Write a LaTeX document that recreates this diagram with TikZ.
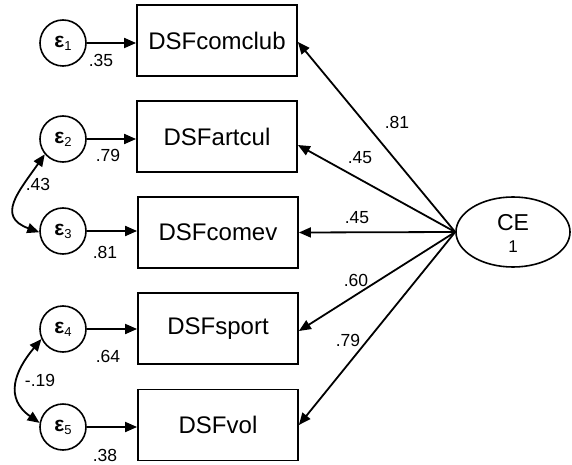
\documentclass[tikz,border=0pt]{standalone}
\usepackage{fontspec}
\setmainfont{Liberation Sans}
\usetikzlibrary{arrows.meta,shapes.geometric}
\tikzset{
  tip/.style={-{Triangle[length=12pt,width=10pt]}},
  twotip/.style={{Triangle[length=12pt,width=10pt]}-{Triangle[length=12pt,width=10pt]}},
  obsbox/.style={draw,line width=1.8pt,minimum width=160pt,minimum height=71pt,inner sep=0pt,font=\fontsize{24}{26}\selectfont},
  errc/.style={draw,circle,line width=1.6pt,minimum size=46pt,inner sep=0pt,font=\fontsize{21}{22}\selectfont},
  lat/.style={draw,ellipse,line width=1.6pt,minimum width=114pt,minimum height=70pt,inner sep=0pt},
  wlab/.style={font=\fontsize{17.5}{18}\selectfont,inner sep=0pt},
  conn/.style={line width=1.8pt}
}
\newcommand{\eps}[1]{\textbf{ε}\raisebox{-0.15em}{\fontsize{13}{14}\selectfont #1}}
\begin{document}
\begin{tikzpicture}[x=1pt,y=-1pt]
\useasboundingbox (0,0) rectangle (572,465);
% indicators
\node[obsbox] (b1) at (217,40.5) {DSFcomclub};
\node[obsbox] (b2) at (217,136.5) {DSFartcul};
\node[obsbox] (b3) at (218,232.5) {DSFcomev};
\node[obsbox] (b4) at (218,328.5) {DSFsport};
\node[obsbox] (b5) at (218,425) {DSFvol};
% error terms
\node[errc] (e1) at (63,43) {\eps{1}};
\node[errc] (e2) at (63,139) {\eps{2}};
\node[errc] (e3) at (63,231) {\eps{3}};
\node[errc] (e4) at (63,329) {\eps{4}};
\node[errc] (e5) at (63,427) {\eps{5}};
% latent factor
\node[lat] (ce) at (513,232) {};
\node[font=\fontsize{23}{24}\selectfont,inner sep=0pt] (cet) at (513,223) {CE};
\node[font=\fontsize{17}{18}\selectfont,inner sep=0pt] (ceo) at (513,247) {1};
% error paths
\foreach \i in {1,...,5} \draw[conn,tip] (e\i) -- (b\i.west |- e\i);
\node[wlab] (l1) at (101,60) {.35};
\node[wlab] (l2) at (108,155) {.79};
\node[wlab] (l3) at (105,252) {.81};
\node[wlab] (l4) at (108,356) {.64};
\node[wlab] (l5) at (105,455) {.38};
% loadings
\coordinate (src) at (ce.west);
\draw[conn,tip] (src) -- (b1.east |- 0,42);
\draw[conn,tip] (src) -- (b2.east |- 0,145);
\draw[conn,tip] (src) -- (b3.east);
\draw[conn,tip] (src) -- (b4.east |- 0,331);
\draw[conn,tip] (src) -- (b5.east |- 0,425);
\node[wlab] (f1) at (397,122) {.81};
\node[wlab] (f2) at (360,158) {.45};
\node[wlab] (f3) at (357,218) {.45};
\node[wlab] (f4) at (356,280) {.60};
\node[wlab] (f5) at (348,340) {.79};
% covariances
\draw[conn,twotip] (e2.220) to[out=235,in=160,looseness=1.5] (e3.183);
\draw[conn,twotip] (e4.205) to[out=230,in=145,looseness=1.3] (e5.170);
\node[wlab] (c23) at (38,184) {.43};
\node[wlab] (c45) at (40,380) {-.19};
\end{tikzpicture}
\end{document}
